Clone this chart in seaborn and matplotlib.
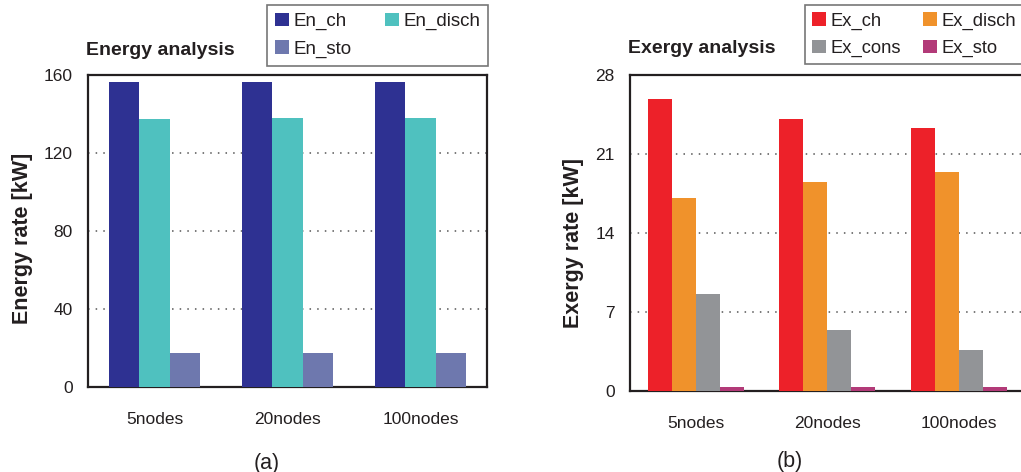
import numpy as np
import pandas as pd
import matplotlib
matplotlib.use("Agg")
import matplotlib.pyplot as plt
import seaborn as sns

# ---- data ----
configs = ["5nodes", "20nodes", "100nodes"]

energy_series = ["En_ch", "En_disch", "En_sto"]
en_ch = [156.4, 156.4, 156.4]
en_disch = [137.4, 137.9, 137.9]
en_sto = [17.3, 17.3, 17.3]

exergy_series = ["Ex_ch", "Ex_disch", "Ex_cons", "Ex_sto"]
ex_ch = [25.9, 24.1, 23.3]
ex_disch = [17.1, 18.5, 19.4]
ex_cons = [8.6, 5.4, 3.6]
ex_sto = [0.33, 0.33, 0.33]

energy_ticks = [0, 40, 80, 120, 160]
exergy_ticks = [0, 7, 14, 21, 28]

energy_colors = ["#2E3192", "#4FC1BF", "#6E78AE"]
exergy_colors = ["#ED2129", "#F0922B", "#929497", "#B23A78"]


def long_frame(names, columns):
    rows = []
    for name, vals in zip(names, columns):
        for cfg, v in zip(configs, vals):
            rows.append({"config": cfg, "series": name, "value": v})
    return pd.DataFrame(rows)


energy_df = long_frame(energy_series, [en_ch, en_disch, en_sto])
exergy_df = long_frame(exergy_series, [ex_ch, ex_disch, ex_cons, ex_sto])

sns.set_style("white")
plt.rcParams["font.family"] = ["Liberation Sans", "DejaVu Sans"]
plt.rcParams["text.color"] = "#231F20"
plt.rcParams["axes.labelcolor"] = "#231F20"
plt.rcParams["xtick.color"] = "#231F20"
plt.rcParams["ytick.color"] = "#231F20"

fig = plt.figure(figsize=(10.21, 4.72), dpi=100)
ax1 = fig.add_axes([88 / 1021, 1 - 387 / 472, 399 / 1021, 312 / 472])
ax2 = fig.add_axes([630 / 1021, 1 - 390.7 / 472, 394.5 / 1021, 315.7 / 472])


def style_panel(ax, df, names, colors, ticks, width, ylabel, title, title_y,
                label_xy, legend_xy, colspacing, legend_size):
    sns.barplot(data=df, x="config", y="value", hue="series", order=configs,
                hue_order=names, palette=colors, width=width, saturation=1,
                linewidth=0, errorbar=None, ax=ax, zorder=3)
    ax.set_xlim(-0.5, 2.5)
    ax.set_ylim(ticks[0], ticks[-1])
    ax.set_yticks(ticks)
    ax.set_yticklabels([str(t) for t in ticks], fontsize=12.5)
    # category boundaries carry the tick marks, centers carry the labels
    ax.set_xticks([-0.5, 0.5, 1.5, 2.5])
    ax.set_xticklabels([])
    ax.set_xticks([0, 1, 2], minor=True)
    ax.set_xticklabels(configs, minor=True, fontsize=12.5)
    ax.tick_params(axis="x", which="major", direction="out", length=6, width=1.2)
    ax.tick_params(axis="x", which="minor", length=0, pad=18)
    ax.tick_params(axis="y", direction="out", length=6, width=1.2, pad=5)
    for t in ticks[1:-1]:
        ax.axhline(t, color="#555555", lw=1.1, ls=(0, (1, 4)), zorder=1)
    for sp in ax.spines.values():
        sp.set_visible(True)
        sp.set_color("#231F20")
        sp.set_linewidth(1.6)
    ax.set_xlabel("")
    ax.set_ylabel(ylabel, fontsize=15.5, fontweight="bold")
    ax.yaxis.set_label_coords(*label_xy)
    ax.text(-0.004, title_y, title, transform=ax.transAxes, fontsize=14,
            fontweight="bold", ha="left", va="baseline")
    handles, labels = ax.get_legend_handles_labels()
    ax.get_legend().remove()
    # two columns filled row by row
    n = len(handles)
    order = list(range(0, n, 2)) + list(range(1, n, 2))
    leg = ax.legend([handles[i] for i in order], [labels[i] for i in order],
                    ncol=2, loc="upper left", bbox_to_anchor=legend_xy,
                    bbox_transform=fig.transFigure, fontsize=legend_size,
                    frameon=True, fancybox=False, edgecolor="#555555",
                    handlelength=0.75, handleheight=0.75, handletextpad=0.25,
                    columnspacing=colspacing, labelspacing=0.55,
                    borderpad=0.4, borderaxespad=0)
    leg.get_frame().set_linewidth(1.2)
    leg.set_zorder(5)


style_panel(ax1, energy_df, energy_series, energy_colors, energy_ticks, 0.68,
            "Energy rate [kW]", "Energy analysis", 1.064, (-0.138, 0.476),
            (267 / 1021, 1 - 5 / 472), 1.8, 13.5)
style_panel(ax2, exergy_df, exergy_series, exergy_colors, exergy_ticks, 0.73,
            "Exergy rate [kW]", "Exergy analysis", 1.069, (-0.117, 0.469),
            (805 / 1021, 1 - 5 / 472), 1.2, 13.2)

fig.text(266.5 / 1021, 1 - 463 / 472, "(a)", fontsize=15.5, ha="center", va="center")
fig.text(790 / 1021, 1 - 462 / 472, "(b)", fontsize=15.5, ha="center", va="center")

fig.savefig("out.png", dpi=100)
